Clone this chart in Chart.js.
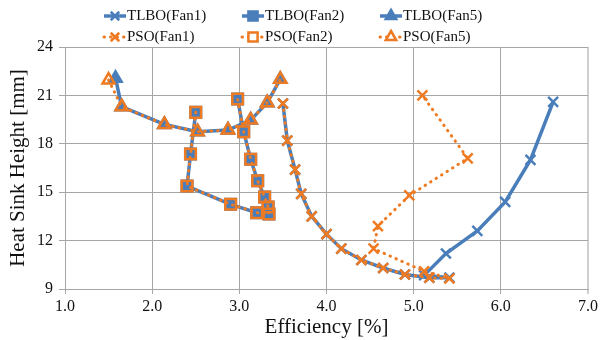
<!DOCTYPE html>
<html>
<head>
<meta charset="utf-8">
<script src="https://cdn.jsdelivr.net/npm/chart.js@4.4.1/dist/chart.umd.min.js"></script>
<style>
  html, body { margin: 0; padding: 0; background: #fff; }
  #wrap { width: 601px; height: 340px; }
</style>
</head>
<body>
<div id="wrap"><canvas id="heightChart"></canvas></div>
<script>
// efficiency [%] and heat sink height [mm]
var tlboFan1Eff    = [3.50, 3.55, 3.64, 3.71, 3.83, 4.00, 4.17, 4.40, 4.65, 4.90, 5.18, 5.41, 5.12, 5.37, 5.73, 6.05, 6.34, 6.60];
var tlboFan1Height = [20.5, 18.2, 16.4, 14.9, 13.5, 12.4, 11.5, 10.8, 10.3, 9.9, 9.7, 9.7, 9.85, 11.2, 12.6, 14.4, 17.0, 20.6];
var psoFan1Eff     = [3.50, 3.55, 3.64, 3.71, 3.83, 4.00, 4.17, 4.40, 4.65, 4.90, 5.18, 5.41, 5.12, 4.54, 4.59, 4.95, 5.62, 5.10];
var psoFan1Height  = [20.5, 18.2, 16.4, 14.9, 13.5, 12.4, 11.5, 10.8, 10.3, 9.9, 9.7, 9.65, 10.1, 11.5, 12.9, 14.8, 17.1, 21.0];

var tlboFan2Eff    = [2.50, 2.44, 2.40, 2.90, 3.20, 3.34, 3.33, 3.29, 3.21, 3.13, 3.05, 2.98];
var tlboFan2Height = [19.95, 17.37, 15.38, 14.25, 13.73, 13.65, 14.08, 14.7, 15.71, 17.04, 18.75, 20.78];
var psoFan2Eff     = [2.50, 2.44, 2.40, 2.90, 3.20, 3.34, 3.33, 3.29, 3.21, 3.13, 3.05, 2.98];
var psoFan2Height  = [19.95, 17.37, 15.38, 14.25, 13.73, 13.65, 14.08, 14.7, 15.71, 17.04, 18.75, 20.78];

var tlboFan5Eff    = [1.58, 1.65, 2.14, 2.52, 2.87, 3.13, 3.32, 3.47];
var tlboFan5Height = [22.06, 20.3, 19.2, 18.75, 18.85, 19.47, 20.55, 22.0];
var psoFan5Eff     = [1.50, 1.65, 2.14, 2.52, 2.87, 3.13, 3.32, 3.47];
var psoFan5Height  = [21.95, 20.3, 19.2, 18.75, 18.85, 19.47, 20.55, 22.0];

var seriesNames = ['TLBO(Fan1)', 'TLBO(Fan2)', 'TLBO(Fan5)', 'PSO(Fan1)', 'PSO(Fan2)', 'PSO(Fan5)'];
var xTicks = [1, 2, 3, 4, 5, 6, 7];
var yTicks = [9, 12, 15, 18, 21, 24];

var BLUE = '#4A7EBB';
var ORANGE = '#EE7A22';
var SERIF = '"Liberation Serif", "Times New Roman", serif';

function toPoints(xs, ys) {
    return xs.map(function(x, i) { return { x: x, y: ys[i] }; });
}

function tlbo(name, xs, ys, style, radius) {
    return {
        label: name,
        data: toPoints(xs, ys),
        borderColor: BLUE,
        backgroundColor: BLUE,
        borderWidth: 3.5,
        pointStyle: style,
        pointRadius: radius,
        pointBorderWidth: 2.5,
        pointBackgroundColor: BLUE,
        pointBorderColor: BLUE,
        showLine: true,
        tension: 0,
        order: 1
    };
}

function pso(name, xs, ys, style, radius) {
    return {
        label: name,
        data: toPoints(xs, ys),
        borderColor: ORANGE,
        backgroundColor: 'rgba(0,0,0,0)',
        borderWidth: 3,
        borderDash: [0.5, 6],
        borderCapStyle: 'round',
        pointStyle: style,
        pointRadius: radius,
        pointBorderWidth: 2.5,
        pointBackgroundColor: 'rgba(0,0,0,0)',
        pointBorderColor: ORANGE,
        showLine: true,
        tension: 0,
        order: 0
    };
}

// Excel style legend: two rows of three, short line with marker in the middle
var excelLegend = {
    id: 'excelLegend',
    afterDraw: function(chart) {
        var ctx = chart.ctx;
        chart.data.datasets.forEach(function(ds, i) {
            var col = i % 3, row = Math.floor(i / 3);
            var x0 = 104 + col * 138;
            var y = 16 + row * 21;
            ctx.save();
            ctx.strokeStyle = ds.borderColor;
            ctx.lineWidth = ds.borderWidth;
            ctx.lineCap = ds.borderCapStyle || 'butt';
            ctx.setLineDash(ds.borderDash || []);
            ctx.beginPath();
            ctx.moveTo(x0, y);
            ctx.lineTo(x0 + 22, y);
            ctx.stroke();
            ctx.setLineDash([]);
            ctx.lineCap = 'butt';
            ctx.strokeStyle = ds.pointBorderColor;
            ctx.fillStyle = ds.order === 0 ? '#fff' : ds.pointBackgroundColor;
            ctx.lineWidth = ds.pointBorderWidth;
            Chart.helpers.drawPoint(ctx, {
                pointStyle: ds.pointStyle,
                radius: ds.pointRadius - 1,
                borderWidth: ds.pointBorderWidth,
                rotation: 0
            }, x0 + 11, y);
            ctx.fillStyle = '#111';
            ctx.font = '15px ' + SERIF;
            ctx.textBaseline = 'middle';
            ctx.textAlign = 'left';
            ctx.fillText(ds.label, x0 + 23, y);
            ctx.restore();
        });
    }
};

var ctx = document.getElementById('heightChart').getContext('2d');
var heightChart = new Chart(ctx, {
    type: 'scatter',
    data: {
        datasets: [
            tlbo(seriesNames[0], tlboFan1Eff, tlboFan1Height, 'crossRot', 7),
            tlbo(seriesNames[1], tlboFan2Eff, tlboFan2Height, 'rect', 7.5),
            tlbo(seriesNames[2], tlboFan5Eff, tlboFan5Height, 'triangle', 7),
            pso(seriesNames[3], psoFan1Eff, psoFan1Height, 'crossRot', 7),
            pso(seriesNames[4], psoFan2Eff, psoFan2Height, 'rect', 7.5),
            pso(seriesNames[5], psoFan5Eff, psoFan5Height, 'triangle', 7)
        ]
    },
    options: {
        responsive: true,
        maintainAspectRatio: false,
        animation: false,
        layout: {
            padding: { top: 47, right: 10, left: 0, bottom: 0 }
        },
        plugins: {
            legend: { display: false },
            tooltip: { enabled: false }
        },
        scales: {
            x: {
                type: 'linear',
                min: xTicks[0],
                max: xTicks[xTicks.length - 1],
                afterBuildTicks: function(scale) {
                    scale.ticks = xTicks.map(function(v) { return { value: v }; });
                },
                afterFit: function(scale) { scale.height = 51; },
                grid: {
                    color: function(c) { return c.tick && c.tick.value === 7 ? '#CFCFCF' : '#A6A6A6'; },
                    lineWidth: function(c) { return c.tick && c.tick.value === 7 ? 2 : 1; },
                    tickLength: 5
                },
                border: { color: '#A6A6A6' },
                ticks: {
                    color: '#111',
                    padding: 3,
                    maxRotation: 0,
                    font: { family: SERIF, size: 16 },
                    callback: function(v) { return v.toFixed(1); }
                },
                title: {
                    display: true,
                    text: 'Efficiency [%]',
                    color: '#111',
                    padding: { top: 0, bottom: 0 },
                    font: { family: SERIF, size: 21 }
                }
            },
            y: {
                type: 'linear',
                min: yTicks[0],
                max: yTicks[yTicks.length - 1],
                afterBuildTicks: function(scale) {
                    scale.ticks = yTicks.map(function(v) { return { value: v }; });
                },
                afterFit: function(scale) { scale.width = 65; },
                grid: {
                    color: '#A6A6A6',
                    tickLength: 6
                },
                border: { color: '#A6A6A6' },
                ticks: {
                    color: '#111',
                    padding: 6,
                    font: { family: SERIF, size: 16 }
                },
                title: {
                    display: true,
                    text: 'Heat Sink Height [mm]',
                    color: '#111',
                    padding: { top: 6, bottom: 0 },
                    font: { family: SERIF, size: 21 }
                }
            }
        }
    },
    plugins: [excelLegend]
});
</script>
</body>
</html>
